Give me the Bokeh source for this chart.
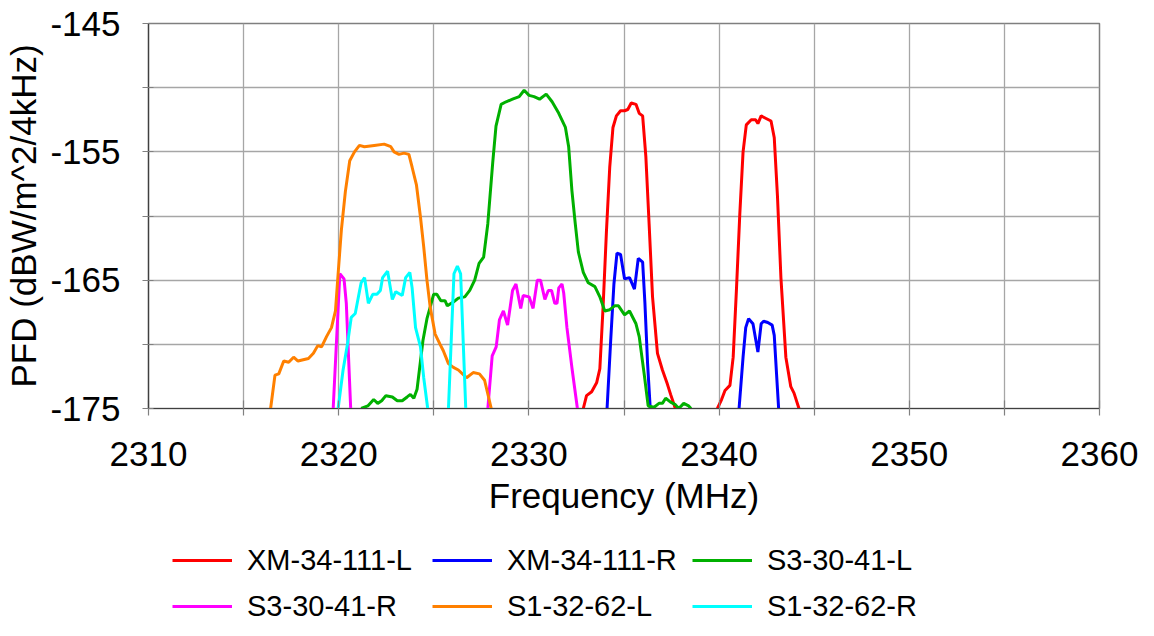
import numpy as np
from bokeh.plotting import figure
from bokeh.layouts import column
from bokeh.models import Range1d, FixedTicker, Legend, LegendItem, ColumnDataSource
from bokeh.embed import file_html
from bokeh.resources import INLINE

NaN = float("nan")

# ---- data (frequency MHz, PFD dBW/m^2/4kHz) ----
names = ["XM-34-111-L", "XM-34-111-R", "S3-30-41-L", "S3-30-41-R", "S1-32-62-L", "S1-32-62-R"]
colors = ["#FF0000", "#0000FF", "#00B000", "#FF00FF", "#FF8000", "#00FFFF"]

xm_l_f = [2332.86, 2333.03, 2333.3, 2333.56, 2333.73, 2333.9, 2334.08, 2334.25, 2334.42, 2334.6,
          2334.82, 2335.03, 2335.2, 2335.38, 2335.63, 2335.8, 2335.98, 2336.15, 2336.32, 2336.5,
          2336.76, 2337.02, 2337.28, 2337.45, 2337.7, NaN,
          2339.91, 2340.13, 2340.31, 2340.57, 2340.74, 2340.91, 2341.09, 2341.26, 2341.43, 2341.69,
          2341.92, 2342.04, 2342.21, 2342.47, 2342.73, 2342.9, 2343.07, 2343.25, 2343.51, 2343.77,
          2343.94, 2344.2]
xm_l_v = [-175, -174.0, -173.7, -173.0, -171.9, -167.1, -161.1, -156.2, -153.1, -152.2,
          -151.8, -151.8, -151.7, -151.2, -151.3, -152.0, -152.2, -155.4, -160.6, -166.3,
          -170.7, -172.0, -173.1, -173.9, -175, NaN,
          -175, -174.3, -173.6, -173.2, -171.0, -165.8, -159.8, -155.0, -152.9, -152.5,
          -152.5, -152.8, -152.2, -152.4, -152.6, -153.9, -158.5, -164.8, -171.0, -173.3,
          -173.8, -175]

xm_r_f = [2334.11, 2334.3, 2334.47, 2334.63, 2334.82, 2335.03, 2335.29, 2335.55, 2335.75, 2335.98,
          2336.1, 2336.24, 2336.38, NaN,
          2341.05, 2341.26, 2341.4, 2341.55, 2341.78, 2342.04, 2342.21, 2342.34, 2342.56, 2342.79,
          2342.9, 2343.02, 2343.13]
xm_r_v = [-175, -169.7, -165.3, -162.9, -163.0, -164.9, -164.8, -165.7, -163.3, -163.6,
          -166.8, -171.5, -175, NaN,
          -175, -171.0, -168.7, -168.0, -168.4, -170.6, -168.4, -168.2, -168.3, -168.5,
          -169.3, -172.3, -175]

s3_l_f = [2321.18, 2321.53, 2321.84, 2322.05, 2322.26, 2322.48, 2322.82, 2323.08, 2323.34, 2323.6,
          2323.77, 2323.95, 2324.12, 2324.3, 2324.43, 2324.64, 2324.81, 2324.99, 2325.16, 2325.37,
          2325.59, 2325.71, 2326.03, 2326.29, 2326.63, 2326.89, 2327.15, 2327.38, 2327.62, 2327.84,
          2328.1, 2328.27, 2328.54, 2328.8, 2329.14, 2329.49, 2329.75, 2330.01, 2330.27, 2330.56,
          2330.91, 2331.22, 2331.57, 2331.92, 2332.09, 2332.26, 2332.43, 2332.6, 2332.86, 2333.12,
          2333.47, 2333.73, 2333.99, 2334.25, 2334.51, 2334.71, 2335.03, 2335.29, 2335.63, 2335.8,
          2336.06, 2336.27, 2336.58, 2336.84, 2337.02, 2337.19, 2337.45, 2337.7, 2337.88, 2338.14,
          2338.4, 2338.52]
s3_l_v = [-175, -174.8, -174.3, -174.6, -174.4, -174.0, -174.1, -174.4, -174.4, -174.1,
          -173.9, -174.2, -173.5, -171.3, -169.7, -168.0, -167.1, -166.1, -166.1, -166.6,
          -166.6, -167.0, -166.7, -166.4, -166.3, -165.8, -165.0, -163.7, -163.2, -160.6,
          -155.8, -153.0, -151.3, -151.1, -150.9, -150.7, -150.2, -150.6, -150.7, -150.9,
          -150.5, -151.1, -152.0, -153.1, -154.6, -158.0, -160.5, -162.8, -164.4, -165.2,
          -165.5, -166.3, -167.4, -167.3, -167.0, -167.0, -167.7, -167.4, -168.4, -169.4,
          -172.3, -174.8, -174.9, -174.6, -174.6, -174.2, -174.5, -174.7, -175, -174.6,
          -174.8, -175]

s3_r_f = [2319.71, 2320.06, 2320.28, 2320.4, 2320.63, NaN,
          2327.84, 2328.07, 2328.28, 2328.45, 2328.66, 2328.88, 2329.14, 2329.32, 2329.57, 2329.7,
          2330.01, 2330.22, 2330.44, 2330.61, 2330.84, 2331.02, 2331.19, 2331.36, 2331.48, 2331.57,
          2331.74, 2331.83, 2332.0, 2332.26, 2332.55]
s3_r_v = [-175, -164.5, -164.9, -166.8, -175, NaN,
          -175, -170.9, -170.2, -168.1, -167.4, -168.5, -165.8, -165.3, -167.2, -166.2,
          -166.3, -167.2, -165.0, -165.0, -166.5, -165.8, -165.8, -166.8, -166.8, -165.6,
          -165.3, -166.0, -168.7, -171.8, -175]

s1_l_f = [2316.42, 2316.65, 2316.85, 2317.11, 2317.37, 2317.63, 2317.86, 2318.41, 2318.67, 2318.9,
          2319.1, 2319.36, 2319.62, 2319.83, 2319.97, 2320.14, 2320.35, 2320.58, 2320.83, 2321.09,
          2321.35, 2321.87, 2322.39, 2322.74, 2322.91, 2323.17, 2323.43, 2323.69, 2323.86, 2324.09,
          2324.3, 2324.47, 2324.64, 2324.81, 2325.07, 2325.33, 2325.5, 2325.77, 2326.03, 2326.29,
          2326.72, 2327.07, 2327.4, 2327.67, 2328.02]
s1_l_v = [-175, -172.4, -172.3, -171.3, -171.4, -171.0, -171.3, -171.1, -170.7, -170.1,
          -170.2, -169.4, -168.7, -167.4, -164.5, -161.1, -158.1, -155.7, -155.0, -154.5,
          -154.6, -154.5, -154.4, -154.6, -155.0, -155.2, -155.1, -155.2, -156.2, -157.6,
          -160.1, -162.4, -165.0, -167.1, -169.2, -170.0, -170.5, -171.5, -171.8, -172.0,
          -172.6, -172.2, -172.3, -172.8, -175]

s1_r_f = [2319.97, 2320.23, 2320.46, 2320.66, 2320.87, 2321.1, 2321.18, 2321.36, 2321.56, 2321.79,
          2322.01, 2322.19, 2322.31, 2322.57, 2322.82, 2323.0, 2323.34, 2323.52, 2323.74, 2323.86,
          2324.04, 2324.3, 2324.47, 2324.68, NaN,
          2325.77, 2326.06, 2326.24, 2326.41, 2326.68]
s1_r_v = [-175, -172.0, -170.0, -167.9, -167.6, -165.8, -165.2, -164.8, -166.8, -166.1,
          -166.1, -165.8, -164.8, -164.3, -166.5, -165.9, -166.2, -164.8, -164.4, -165.6,
          -168.7, -170.2, -172.6, -175, NaN,
          -175, -164.5, -163.9, -164.5, -175]

series_f = [xm_l_f, xm_r_f, s3_l_f, s3_r_f, s1_l_f, s1_r_f]
series_v = [xm_l_v, xm_r_v, s3_l_v, s3_r_v, s1_l_v, s1_r_v]

x_major = [2310, 2320, 2330, 2340, 2350, 2360]
x_minor = [2315, 2325, 2335, 2345, 2355]
y_major = [-175, -165, -155, -145]
y_minor = [-170, -160, -150]
y_labels = ["-175", "-165", "-155", "-145"]

FONT = "Liberation Sans"
W = 1138
H_MAIN = 532
H_LEG = 88

p = figure(width=W, height=H_MAIN, output_backend="svg", toolbar_location=None,
           x_range=Range1d(2310, 2360), y_range=Range1d(-175, -145),
           min_border_left=148, min_border_right=39, min_border_top=23, min_border_bottom=124)
p.background_fill_color = "white"
p.border_fill_color = "white"
p.outline_line_color = "#7f7f7f"
p.outline_line_width = 1.5

for ax, maj, mnr in ((p.xaxis[0], x_major, x_minor), (p.yaxis[0], y_major, y_minor)):
    ax.ticker = FixedTicker(ticks=maj, minor_ticks=mnr)
    ax.axis_line_color = "#404040"
    ax.axis_line_width = 1.2
    ax.major_tick_line_color = "#808080"
    ax.minor_tick_line_color = "#808080"
    ax.major_tick_line_width = 1.2
    ax.minor_tick_line_width = 1.2
    ax.major_label_text_font = FONT
    ax.major_label_text_font_size = "35px"
    ax.major_label_text_color = "black"
    ax.axis_label_text_font = FONT
    ax.axis_label_text_font_size = "35px"
    ax.axis_label_text_font_style = "normal"
    ax.axis_label_text_color = "black"

p.yaxis[0].major_label_overrides = {v: s for v, s in zip(y_major, y_labels)}

p.xaxis.major_tick_in = 8
p.xaxis.major_tick_out = 7
p.xaxis.minor_tick_in = 8
p.xaxis.minor_tick_out = 7
p.yaxis.major_tick_in = 5
p.yaxis.major_tick_out = 6
p.yaxis.minor_tick_in = 5
p.yaxis.minor_tick_out = 6
p.xaxis.major_label_standoff = 26
p.yaxis.major_label_standoff = 22
p.xaxis.axis_label = "Frequency (MHz)"
p.yaxis.axis_label = "PFD (dBW/m^2/4kHz)"
p.xaxis.axis_label_standoff = 7
p.yaxis.axis_label_standoff = 4

for g in (p.xgrid[0], p.ygrid[0]):
    g.grid_line_color = "#a6a6a6"
    g.grid_line_width = 1.3
    g.minor_grid_line_color = "#a6a6a6"
    g.minor_grid_line_width = 1.3

for name, color, fx, vy in zip(names, colors, series_f, series_v):
    src = ColumnDataSource(dict(x=np.array(fx, dtype=float), y=np.array(vy, dtype=float)))
    p.line("x", "y", source=src, line_color=color, line_width=3)

# ---- legend strip below the chart (keys only, no data drawn here) ----
pl = figure(width=W, height=H_LEG, output_backend="svg", toolbar_location=None,
            x_range=Range1d(0, 1), y_range=Range1d(0, 1),
            x_axis_location=None, y_axis_location=None,
            min_border_left=0, min_border_right=0, min_border_top=0, min_border_bottom=0)
pl.outline_line_color = None
pl.background_fill_color = "white"
pl.border_fill_color = "white"
pl.grid.visible = False

items = []
for name, color in zip(names, colors):
    key_src = ColumnDataSource(dict(x=[NaN, NaN], y=[NaN, NaN]))
    r = pl.line("x", "y", source=key_src, line_color=color, line_width=3)
    items.append(LegendItem(label=name, renderers=[r]))

legend = Legend(items=items, ncols=3, orientation="horizontal",
                location=(24, -4),
                glyph_width=60, glyph_height=36, label_height=36,
                label_width=175, label_standoff=15, spacing=10, padding=0, margin=0,
                label_text_font=FONT, label_text_font_size="29px", label_text_color="black",
                background_fill_alpha=0, border_line_color=None)
pl.add_layout(legend)

layout = column(p, pl, spacing=0)
open("out.html", "w").write(file_html(layout, INLINE))
